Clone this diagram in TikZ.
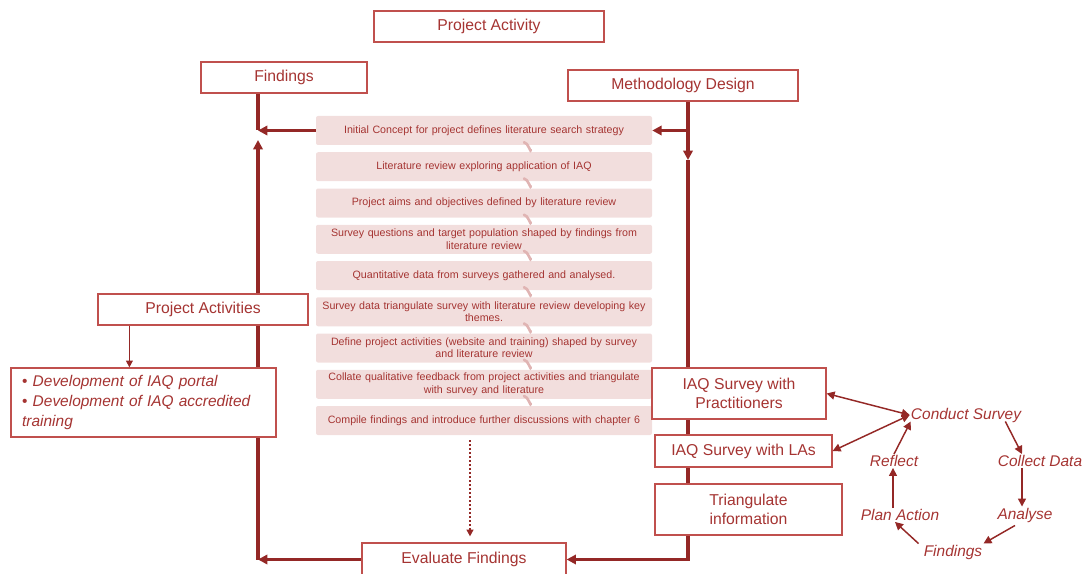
\documentclass[tikz,border=0pt]{standalone}
\usepackage{fontspec}
\setmainfont{Liberation Sans}
\usetikzlibrary{arrows.meta}
\usetikzlibrary{backgrounds}
\usetikzlibrary{calc}
\usepackage{xcolor}
\definecolor{boxred}{RGB}{192,80,77}
\definecolor{txtred}{RGB}{165,52,50}
\definecolor{flowred}{RGB}{148,40,38}
\definecolor{steppink}{RGB}{242,222,221}
\definecolor{curlpink}{RGB}{224,180,179}

\begin{document}
\begin{tikzpicture}[x=0.75pt,y=0.75pt,yscale=-1,xscale=1,
  whitebox/.style={draw=boxred,line width=0.9pt,fill=white,text=txtred,inner sep=0.75pt,align=center,font=\fontsize{11.8}{14}\selectfont},
  stepbox/.style={fill=steppink,rounded corners=1.5pt,text=txtred,inner sep=0.75pt,minimum width=252pt,minimum height=21.75pt,text width=248pt,align=center,font=\fontsize{8}{9.2}\selectfont},
  cyclabel/.style={text=txtred,inner sep=0.75pt,font=\fontsize{11.6}{13}\selectfont\itshape},
  flowline/.style={draw=flowred,line width=2.4pt},
  flow/.style={flowline,-{Triangle[length=7pt,width=7pt]}},
  dotflow/.style={draw=flowred,line width=1.5pt,dash pattern={on 1.5pt off 1.5pt},-{Triangle[length=5pt,width=5pt]}},
  thinarrow/.style={draw=flowred,line width=0.9pt,-{Triangle[length=5pt,width=5pt]}},
  cycarrow/.style={draw=flowred,line width=1.1pt,-{Triangle[length=6pt,width=6pt]}},
  cycboth/.style={draw=flowred,line width=1.1pt,{Triangle[length=6pt,width=6pt]}-{Triangle[length=6pt,width=6pt]}},
  curl/.style={draw=curlpink,line width=2pt,line cap=round}]
\useasboundingbox (0,0) rectangle (1088,574);

% Text Node
\node[whitebox,minimum width=172.5pt,minimum height=23.25pt] (pa) at (489,26.5) {Project Activity};
% Text Node
\node[whitebox,minimum width=124.5pt,minimum height=23.25pt] (find) at (284,77.5) {Findings};
% Text Node
\node[whitebox,minimum width=172.5pt,minimum height=23.25pt] (meth) at (683,85.5) {Methodology Design};

%Steps
\node[stepbox] (s1) at (484,130.5) {Initial Concept for project defines literature search strategy};
\node[stepbox] (s2) at (484,166.75) {Literature review exploring application of IAQ};
\node[stepbox] (s3) at (484,203) {Project aims and objectives defined by literature review};
\node[stepbox] (s4) at (484,239.25) {Survey questions and target population shaped by findings from\\literature review};
\node[stepbox] (s5) at (484,275.5) {Quantitative data from surveys gathered and analysed.};
\node[stepbox] (s6) at (484,311.75) {Survey data triangulate survey with literature review developing key\\themes.};
\node[stepbox] (s7) at (484,348) {Define project activities (website and training) shaped by survey\\and literature review};
\node[stepbox] (s8) at (484,384.25) {Collate qualitative feedback from project activities and triangulate\\with survey and literature};
\node[stepbox] (s9) at (484,420.5) {Compile findings and introduce further discussions with chapter 6};

%Curve Lines
\draw[curl] ($(s1.south)+(40,-3)$) to[out=0,in=90] ($(s2.north)+(47,-2)$);
\draw[curl] ($(s2.south)+(40,-3)$) to[out=0,in=90] ($(s3.north)+(47,-2)$);
\draw[curl] ($(s3.south)+(40,-3)$) to[out=0,in=90] ($(s4.north)+(47,-2)$);
\draw[curl] ($(s4.south)+(40,-3)$) to[out=0,in=90] ($(s5.north)+(47,-2)$);
\draw[curl] ($(s5.south)+(40,-3)$) to[out=0,in=90] ($(s6.north)+(47,-2)$);
\draw[curl] ($(s6.south)+(40,-3)$) to[out=0,in=90] ($(s7.north)+(47,-2)$);
\draw[curl] ($(s7.south)+(40,-3)$) to[out=0,in=90] ($(s8.north)+(47,-2)$);
\draw[curl] ($(s8.south)+(40,-3)$) to[out=0,in=90] ($(s9.north)+(47,-2)$);

% Text Node
\node[whitebox,minimum width=157.5pt,minimum height=23.25pt] (pacts) at (203,309.5) {Project Activities};
% Text Node
\node[whitebox,minimum width=198.75pt,minimum height=51.75pt,text width=190pt,align=left,font=\fontsize{11.6}{15}\selectfont\itshape] (bul) at (143.5,402.5) {\hspace*{4pt}{\upshape\textbullet}\ Development of IAQ portal\\\hspace*{4pt}{\upshape\textbullet}\ Development of IAQ accredited\\\hspace*{4pt}training};
% Text Node
\node[whitebox,minimum width=130.5pt,minimum height=38.25pt] (prac) at (739,393.5) {IAQ Survey with\\Practitioners};
% Text Node
\node[whitebox,minimum width=132.75pt,minimum height=24pt] (las) at (743.5,451) {IAQ Survey with LAs};
% Text Node
\node[whitebox,minimum width=140.25pt,minimum height=38.25pt] (tri) at (748.5,509.5) {Triangulate\\information};
% Text Node
\node[whitebox,minimum width=153pt,minimum height=24.75pt] (eval) at (464,559.5) {Evaluate Findings};

%Cycle
\node[cyclabel] (cs) at (966,415) {Conduct Survey};
\node[cyclabel] (cd) at (1040,461) {Collect Data};
\node[cyclabel] (an) at (1025,515) {Analyse};
\node[cyclabel] (fi) at (953,552) {Findings};
\node[cyclabel] (plan) at (900,515) {Plan Action};
\node[cyclabel] (re) at (894,461) {Reflect};

\coordinate (fjoin) at (258,130.5);
\coordinate (ltop) at (258,140);
\coordinate (rjoin) at (688,130.5);
\coordinate (rtop) at (688,160);

\begin{pgfonlayer}{background}
%Straight Lines
\draw[flowline] (find.south -| fjoin) -- (fjoin);
\draw[flow] (s1.west) -- (fjoin);
\draw[flow] (eval.west) -- (ltop |- eval.west);
\draw[flow] (ltop |- eval.west) -- (ltop);
%Straight Lines
\draw[flow] (meth.south -| rjoin) -- (rtop);
\draw[flow] (rjoin) -- (s1.east);
\draw[flow] (rtop) -- (rtop |- eval.east) -- (eval.east);
\end{pgfonlayer}

\draw[dotflow] ($(s9.south)+(-14,5)$) -- ($(eval.north)+(6,-6)$);
\draw[thinarrow] ($(pacts.south west)+(32,0)$) coordinate (pdrop) -- (pdrop |- bul.north);

%Cycle arrows
\draw[cycarrow] ($(cs.south east)+(-17,-2)$) -- ($(cd.north)+(-18,0)$);
\draw[cycarrow] ($(cd.south)+(-18,0)$) -- ($(an.north)+(-3,0)$);
\draw[cycarrow] ($(an.south)+(-10,2)$) -- (fi.north east);
\draw[cycarrow] ($(fi.north west)+(-4,0)$) -- ($(plan.south)+(-5,0)$);
\draw[cycarrow] ($(plan.north)+(-7,0)$) -- ($(re.south)+(-1,0)$);
\draw[cycarrow] (re.north) -- ($(cs.south west)+(1,-2)$);
\draw[cycboth] (prac.east) -- (cs.west);
\draw[cycboth] (las.east) -- (cs.west);

\end{tikzpicture}
\end{document}
